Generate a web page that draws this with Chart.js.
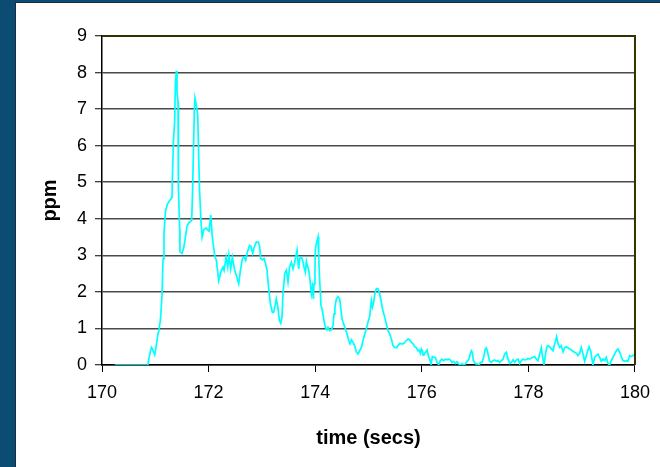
<!DOCTYPE html>
<html>
<head>
<meta charset="utf-8">
<script src="https://cdn.jsdelivr.net/npm/chart.js@4/dist/chart.umd.min.js"></script>
<style>
  html, body { margin: 0; padding: 0; }
  body { width: 660px; height: 467px; background: #0b4d72; position: relative; overflow: hidden; }
  #panel { position: absolute; left: 15px; top: 2px; width: 645px; height: 465px;
           border-left: 1px solid #1c2c3c; border-top: 1px solid #1c2c3c; background: #fff; }
  #plot { position: absolute; left: 0; top: 0; }
</style>
</head>
<body>
<div id="panel"><canvas id="plot" width="644" height="464"></canvas></div>
<script>
// Sensor trace: time in seconds and concentration in ppm
const timeSecs = [
  170.24, 170.86, 170.91, 170.93, 170.95, 170.99, 171.02, 171.05, 171.07, 171.10,
  171.126, 171.145, 171.163, 171.19, 171.227, 171.27, 171.313, 171.32, 171.34, 171.364,
  171.377, 171.396, 171.407, 171.426, 171.433, 171.458, 171.463, 171.50, 171.533, 171.565,
  171.595, 171.633, 171.683, 171.70, 171.715, 171.733, 171.745, 171.77, 171.795, 171.808,
  171.83, 171.855, 171.878, 171.91, 171.95, 171.99, 172.01, 172.04, 172.07, 172.114,
  172.146, 172.19, 172.24, 172.27, 172.29, 172.33, 172.36, 172.38, 172.415, 172.446,
  172.49, 172.53, 172.565, 172.597, 172.634, 172.665, 172.696, 172.728, 172.77, 172.796,
  172.827, 172.86, 172.896, 172.934, 172.959, 172.977, 173.009, 173.04, 173.07, 173.096,
  173.128, 173.16, 173.197, 173.22, 173.253, 173.27, 173.30, 173.328, 173.353, 173.377,
  173.396, 173.428, 173.46, 173.49, 173.52, 173.553, 173.584, 173.615, 173.659, 173.69,
  173.709, 173.74, 173.765, 173.79, 173.816, 173.835, 173.853, 173.878, 173.90, 173.929,
  173.947, 173.966, 173.978, 173.996, 174.003, 174.028, 174.053, 174.066, 174.084, 174.109,
  174.135, 174.16, 174.19, 174.22, 174.24, 174.27, 174.304, 174.334, 174.353, 174.37,
  174.398, 174.428, 174.46, 174.478, 174.503, 174.535, 174.566, 174.597, 174.63, 174.653,
  174.68, 174.71, 174.74, 174.773, 174.803, 174.835, 174.867, 174.897, 174.93, 174.96,
  174.99, 175.02, 175.054, 175.073, 175.098, 175.12, 175.148, 175.178, 175.21, 175.24,
  175.27, 175.304, 175.335, 175.366, 175.398, 175.43, 175.46, 175.49, 175.523, 175.554,
  175.586, 175.617, 175.648, 175.68, 175.71, 175.742, 175.773, 175.805, 175.836, 175.867,
  175.898, 175.93, 175.949, 175.974, 175.992, 176.01, 176.024, 176.04, 176.073, 176.098,
  176.123, 176.148, 176.173, 176.198, 176.223, 176.254, 176.286, 176.317, 176.348, 176.38,
  176.41, 176.442, 176.473, 176.504, 176.536, 176.567, 176.598, 176.63, 176.66, 176.692,
  176.723, 176.754, 176.786, 176.817, 176.848, 176.88, 176.91, 176.93, 176.948, 176.967,
  176.992, 177.01, 177.04, 177.073, 177.104, 177.13, 177.16, 177.192, 177.21, 177.23,
  177.248, 177.273, 177.305, 177.336, 177.367, 177.398, 177.43, 177.46, 177.492, 177.523,
  177.555, 177.587, 177.618, 177.65, 177.68, 177.712, 177.743, 177.774, 177.806, 177.837,
  177.868, 177.9, 177.93, 177.962, 177.993, 178.024, 178.056, 178.087, 178.118, 178.15,
  178.18, 178.212, 178.243, 178.268, 178.293, 178.318, 178.343, 178.368, 178.4, 178.43,
  178.462, 178.493, 178.512, 178.53, 178.556, 178.587, 178.618, 178.65, 178.68, 178.712,
  178.743, 178.774, 178.806, 178.837, 178.868, 178.9, 178.93, 178.962, 178.993, 179.024,
  179.056, 179.087, 179.118, 179.137, 179.168, 179.193, 179.212, 179.243, 179.274, 179.306,
  179.337, 179.368, 179.4, 179.43, 179.462, 179.493, 179.524, 179.556, 179.587, 179.618,
  179.65, 179.68, 179.712, 179.743, 179.774, 179.806, 179.837, 179.868, 179.9, 179.93,
  179.962, 179.993
];
const ppmValues = [
  0, 0, 0.40, 0.48, 0.42, 0.28, 0.55, 0.85, 0.95, 1.30,
  1.90, 2.90, 3.60, 4.20, 4.40, 4.50, 4.58, 5.10, 6.10, 6.70,
  7.70, 8.05, 7.50, 7.20, 4.90, 3.70, 3.10, 3.05, 3.20, 3.50,
  3.80, 3.90, 3.95, 4.80, 5.80, 7.00, 7.30, 7.10, 6.85, 6.10,
  4.80, 4.00, 3.50, 3.70, 3.75, 3.68, 3.66, 4.10, 3.50, 3.00,
  2.86, 2.31, 2.59, 2.68, 2.59, 2.95, 2.68, 3.00, 2.63, 2.95,
  2.59, 2.40, 2.22, 2.59, 2.91, 2.95, 2.86, 3.09, 3.27, 3.24,
  3.05, 3.24, 3.36, 3.36, 3.24, 2.91, 2.88, 2.91, 2.77, 2.59,
  2.08, 1.67, 1.44, 1.44, 1.67, 1.81, 1.58, 1.22, 1.14, 1.31,
  1.95, 2.50, 2.59, 2.27, 2.68, 2.81, 2.63, 2.81, 3.14, 2.63,
  2.91, 2.95, 2.86, 2.68, 2.54, 2.84, 2.72, 2.59, 2.36, 1.95,
  2.13, 1.81, 2.22, 2.63, 3.18, 3.36, 3.50, 2.95, 2.31, 1.63,
  1.49, 1.26, 1.03, 0.96, 1.03, 0.94, 0.96, 1.08, 1.40, 1.58,
  1.81, 1.87, 1.81, 1.58, 1.26, 1.12, 0.99, 0.85, 0.67, 0.58,
  0.69, 0.62, 0.53, 0.35, 0.30, 0.39, 0.48, 0.67, 0.85, 0.99,
  1.17, 1.31, 1.76, 1.58, 1.72, 1.95, 2.09, 2.09, 1.95, 1.72,
  1.49, 1.31, 1.12, 0.94, 0.85, 0.71, 0.53, 0.48, 0.47, 0.53,
  0.59, 0.58, 0.58, 0.62, 0.67, 0.71, 0.69, 0.62, 0.58, 0.50,
  0.47, 0.39, 0.41, 0.32, 0.44, 0.39, 0.27, 0.30, 0.35, 0.41,
  0.26, 0.16, 0.01, 0.23, 0.21, 0.21, 0.07, 0.00, 0.12, 0.16,
  0.12, 0.16, 0.14, 0.16, 0.14, 0.07, 0.10, 0.04, 0.09, 0.03,
  0.00, 0.04, 0.00, 0.03, 0.10, 0.14, 0.30, 0.39, 0.35, 0.12,
  0.07, 0.03, 0.03, 0.00, 0.07, 0.07, 0.21, 0.44, 0.47, 0.39,
  0.26, 0.10, 0.07, 0.12, 0.14, 0.10, 0.12, 0.07, 0.12, 0.16,
  0.30, 0.35, 0.16, 0.04, 0.07, 0.14, 0.07, 0.14, 0.16, 0.04,
  0.12, 0.16, 0.14, 0.15, 0.18, 0.16, 0.19, 0.21, 0.23, 0.16,
  0.12, 0.30, 0.47, 0.21, 0.00, 0.26, 0.48, 0.53, 0.50, 0.44,
  0.39, 0.58, 0.67, 0.78, 0.58, 0.48, 0.53, 0.36, 0.47, 0.50,
  0.47, 0.44, 0.41, 0.37, 0.35, 0.32, 0.26, 0.32, 0.48, 0.30,
  0.10, 0.26, 0.41, 0.50, 0.39, 0.16, 0.00, 0.21, 0.26, 0.30,
  0.21, 0.10, 0.16, 0.12, 0.21, 0.04, 0.00, 0.12, 0.21, 0.30,
  0.39, 0.44, 0.35, 0.23, 0.12, 0.10, 0.12, 0.10, 0.26, 0.23,
  0.26, 0.28
];
const xTickValues = [170, 172, 174, 176, 178, 180];
const yTickValues = [0, 1, 2, 3, 4, 5, 6, 7, 8, 9];
const xTitle = 'time (secs)';
const yTitle = 'ppm';

const FONT = "'Liberation Sans', Arial, sans-serif";

// Dark olive frame along the top and right of the plot area
const plotFrame = {
  id: 'plotFrame',
  afterDatasetsDraw(chart) {
    const { ctx, chartArea: a } = chart;
    ctx.save();
    ctx.lineWidth = 2;
    ctx.strokeStyle = '#333300';
    ctx.beginPath();
    ctx.moveTo(a.left, a.top);
    ctx.lineTo(a.right, a.top);
    ctx.lineTo(a.right, a.bottom);
    ctx.stroke();
    ctx.restore();
  }
};

new Chart(document.getElementById('plot'), {
  type: 'line',
  data: {
    datasets: [{
      data: timeSecs.map((t, i) => ({ x: t, y: ppmValues[i] })),
      borderColor: '#00ffff',
      borderWidth: 1.7,
      pointRadius: 0,
      tension: 0,
      fill: false
    }]
  },
  options: {
    responsive: false,
    animation: false,
    devicePixelRatio: 1,
    layout: { padding: { top: 33, right: 24, left: 0, bottom: 0 } },
    plugins: { legend: { display: false }, tooltip: { enabled: false } },
    scales: {
      x: {
        type: 'linear',
        min: 170, max: 180,
        afterBuildTicks(scale) { scale.ticks = xTickValues.map(v => ({ value: v })); },
        afterFit(scale) { scale.height = 102; },
        ticks: { color: '#000', padding: 10, maxRotation: 0, font: { family: FONT, size: 18 } },
        grid: { drawOnChartArea: false, drawTicks: true, tickLength: 7, tickColor: '#000', tickWidth: 1 },
        border: { display: true, color: '#000', width: 1.5 },
        title: { display: true, text: xTitle, color: '#000',
                 font: { family: FONT, size: 20, weight: 'bold' }, padding: { top: 0, bottom: 17 } }
      },
      y: {
        min: 0, max: 9,
        afterBuildTicks(scale) { scale.ticks = yTickValues.map(v => ({ value: v })); },
        afterFit(scale) { scale.width = 86; },
        ticks: { color: '#000', padding: 8, font: { family: FONT, size: 18 } },
        grid: { color: '#4a4a4a', lineWidth: 1.5, drawTicks: true, tickLength: 7, tickColor: '#000', tickWidth: 1 },
        border: { display: true, color: '#000', width: 1.5 },
        title: { display: true, text: yTitle, color: '#000',
                 font: { family: FONT, size: 20, weight: 'bold' }, padding: { top: 22, bottom: 0 } }
      }
    }
  },
  plugins: [plotFrame]
});
</script>
</body>
</html>
